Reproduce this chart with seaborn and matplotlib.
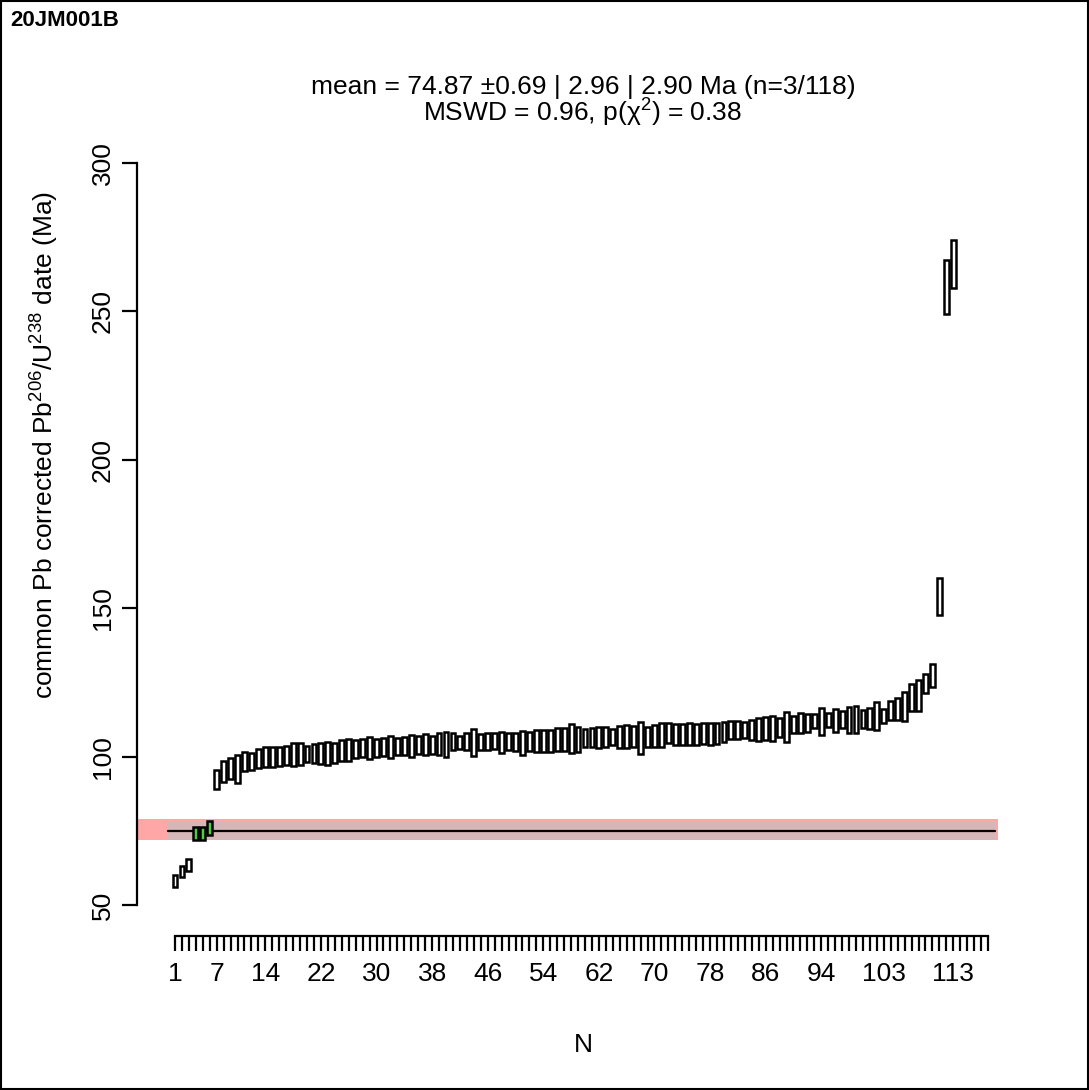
import matplotlib
matplotlib.use("Agg")
import matplotlib.pyplot as plt
from matplotlib.patches import Rectangle
import numpy as np
import pandas as pd
import seaborn as sns

# ---------------- data ----------------
sample_name = "20JM001B"
header_line1 = "mean = 74.87 \u00b10.69 | 2.96 | 2.90 Ma (n=3/118)"
header_line2 = "MSWD = 0.96, p(\u03c7$^{2}$) = 0.38"
y_label = r"common Pb corrected Pb$^{206}$/U$^{238}$ date (Ma)"
x_label = "N"

n_total = 118
included = [4, 5, 6]

age_lo = [56.0, 59.5, 61.5, 71.8, 71.8, 73.6, 89.0, 91.5, 92.3, 91.0,
          95.2, 95.5, 96.3, 96.6, 96.6, 96.8, 97.2, 96.8, 97.2, 98.3,
          98.0, 97.5, 97.2, 97.7, 98.6, 98.5, 99.5, 99.8, 99.2, 100.0,
          100.2, 99.6, 100.4, 100.6, 99.8, 100.8, 100.4, 101.0, 100.6, 100.0,
          102.2, 102.5, 102.2, 100.2, 102.2, 102.2, 102.4, 101.1, 102.2, 102.0,
          100.5, 102.0, 101.7, 101.7, 101.7, 102.0, 102.0, 101.1, 101.7, 103.1,
          103.1, 102.8, 103.1, 103.9, 102.8, 102.8, 103.4, 100.9, 103.4, 103.4,
          103.1, 104.5, 103.9, 103.9, 103.9, 104.0, 104.2, 104.0, 104.2, 105.0,
          105.8, 105.8, 106.2, 105.6, 105.3, 105.6, 105.4, 106.7, 105.0, 108.0,
          107.8, 108.4, 109.5, 107.3, 109.9, 108.2, 109.5, 108.0, 107.8, 109.5,
          109.3, 109.0, 111.2, 112.3, 112.3, 112.0, 115.5, 115.4, 121.3, 123.4,
          147.7, 249.0, 257.8]
age_hi = [60.1, 63.1, 65.5, 76.4, 76.4, 78.4, 95.5, 98.6, 99.4, 100.5,
          101.4, 101.1, 102.4, 103.3, 103.3, 103.3, 103.6, 104.5, 104.7, 103.6,
          104.2, 104.7, 105.0, 104.5, 105.6, 106.0, 105.5, 105.8, 106.5, 106.0,
          106.3, 107.0, 106.4, 106.6, 107.4, 106.8, 107.5, 107.0, 107.8, 108.4,
          108.0, 106.9, 107.8, 109.2, 107.6, 107.8, 107.8, 108.4, 108.1, 107.8,
          108.7, 108.4, 108.9, 108.9, 108.9, 109.5, 109.5, 111.0, 110.1, 109.2,
          109.5, 109.9, 109.9, 109.2, 110.3, 110.6, 110.3, 111.8, 110.1, 110.6,
          111.2, 111.2, 111.0, 111.0, 111.2, 111.0, 111.3, 111.4, 111.4, 111.6,
          112.0, 112.0, 111.8, 112.3, 112.9, 113.2, 113.7, 112.9, 115.1, 113.7,
          114.8, 114.3, 114.3, 116.5, 114.8, 116.0, 115.4, 116.8, 117.0, 115.7,
          116.5, 118.4, 115.9, 118.7, 119.6, 121.9, 124.5, 125.8, 127.7, 131.2,
          160.1, 267.3, 274.1]

mean_age = 74.87
inner_lo, inner_hi = 71.9, 77.8     # grey band
outer_lo, outer_hi = 71.9, 79.0     # pink band

xtick_labels = [1, 7, 14, 22, 30, 38, 46, 54, 62, 70, 78, 86, 94, 103, 113]
ytick_values = [50, 100, 150, 200, 250, 300]

# ---------------- style ----------------
sns.set_theme(style="white")
plt.rcParams['font.family'] = ['Liberation Sans', 'DejaVu Sans']
plt.rcParams['mathtext.fontset'] = 'custom'
plt.rcParams['mathtext.rm'] = 'Liberation Sans'
plt.rcParams['mathtext.it'] = 'Liberation Sans:italic'
plt.rcParams['mathtext.bf'] = 'Liberation Sans:bold'

W, H = 1089, 1090
fig = plt.figure(figsize=(W / 100, H / 100), dpi=100)
fig.patch.set_facecolor('white')

# axes placement in pixels
px_left, px_right, px_top, px_bot = 137, 1028, 140, 936
ax = fig.add_axes([px_left / W, 1 - px_bot / H,
                   (px_right - px_left) / W, (px_bot - px_top) / H])
ax.set_facecolor('white')

x_unit_px = 6.949   # pixels per sample
y_unit_px = 2.968   # pixels per Ma
x0_px, y50_px = 175, 905
ax.set_xlim(1 + (px_left - x0_px) / x_unit_px, 1 + (px_right - x0_px) / x_unit_px)
ax.set_ylim(50 - (px_bot - y50_px) / y_unit_px, 50 + (y50_px - px_top) / y_unit_px)

df = pd.DataFrame({"N": np.arange(1, len(age_lo) + 1),
                   "lo": age_lo, "hi": age_hi})
df["inc"] = df["N"].isin(included)

# bands and mean line
xl = ax.get_xlim()
ax.fill_between([xl[0], n_total + 1.4], outer_lo, outer_hi,
                color='#FFA6A6', lw=0, zorder=1)
ax.fill_between([0, n_total + 1], inner_lo, inner_hi,
                color='#D5B6B9', lw=0, zorder=1.5)
sns.lineplot(x=[0, n_total + 1], y=[mean_age, mean_age], color='black',
             linewidth=1.6, ax=ax, zorder=2)

# error boxes
colors = ['#52CC44' if v else 'white' for v in df["inc"]]
ax.bar(df["N"], df["hi"] - df["lo"], bottom=df["lo"], width=0.7,
       color=colors, edgecolor='black', linewidth=1.8, zorder=3)

# axes styling (R-like)
for s in ['top', 'right']:
    ax.spines[s].set_visible(False)
for s in ['left', 'bottom']:
    ax.spines[s].set_color('black')
    ax.spines[s].set_linewidth(1.6)
ax.spines['bottom'].set_bounds(1, n_total)
ax.spines['left'].set_bounds(ytick_values[0], ytick_values[-1])

ax.set_xticks(xtick_labels)
ax.set_xticklabels([str(v) for v in xtick_labels])
ax.set_xticks(np.arange(1, n_total + 1), minor=True)
ax.set_yticks(ytick_values)
ax.set_yticklabels([str(v) for v in ytick_values])
ax.tick_params(axis='x', which='both', direction='out', length=10.5,
               width=1.6, color='black', labelsize=19, pad=8.0,
               bottom=True, labelcolor='black')
ax.tick_params(axis='y', which='both', direction='out', length=10.5,
               width=1.6, color='black', labelsize=19, pad=5.5,
               left=True, labelcolor='black')
for lbl in ax.get_yticklabels():
    lbl.set_rotation(90)
    lbl.set_va('center')
ax.set_xlabel("")
ax.set_ylabel("")
ax.grid(False)

# texts
fig.text(45 / W, 1 - 445 / H, y_label, rotation=90, ha='center', va='center',
         fontsize=19, color='black')
fig.text(583 / W, 1 - 1045 / H, x_label, ha='center', va='center',
         fontsize=19, color='black')
fig.text(583 / W, 1 - 87 / H, header_line1, ha='center', va='center',
         fontsize=19, color='black')
fig.text(583 / W, 1 - 113 / H, header_line2, ha='center', va='center',
         fontsize=19, color='black')
fig.text(10 / W, 1 - 20 / H, sample_name, ha='left', va='center',
         fontsize=16, fontweight='bold', color='black')

# outer frame
fig.patches.append(Rectangle((0.0005, 0.0005), 0.999, 0.999,
                             transform=fig.transFigure, fill=False,
                             edgecolor='black', linewidth=1.5))

fig.savefig("out.png", dpi=100, facecolor='white')
